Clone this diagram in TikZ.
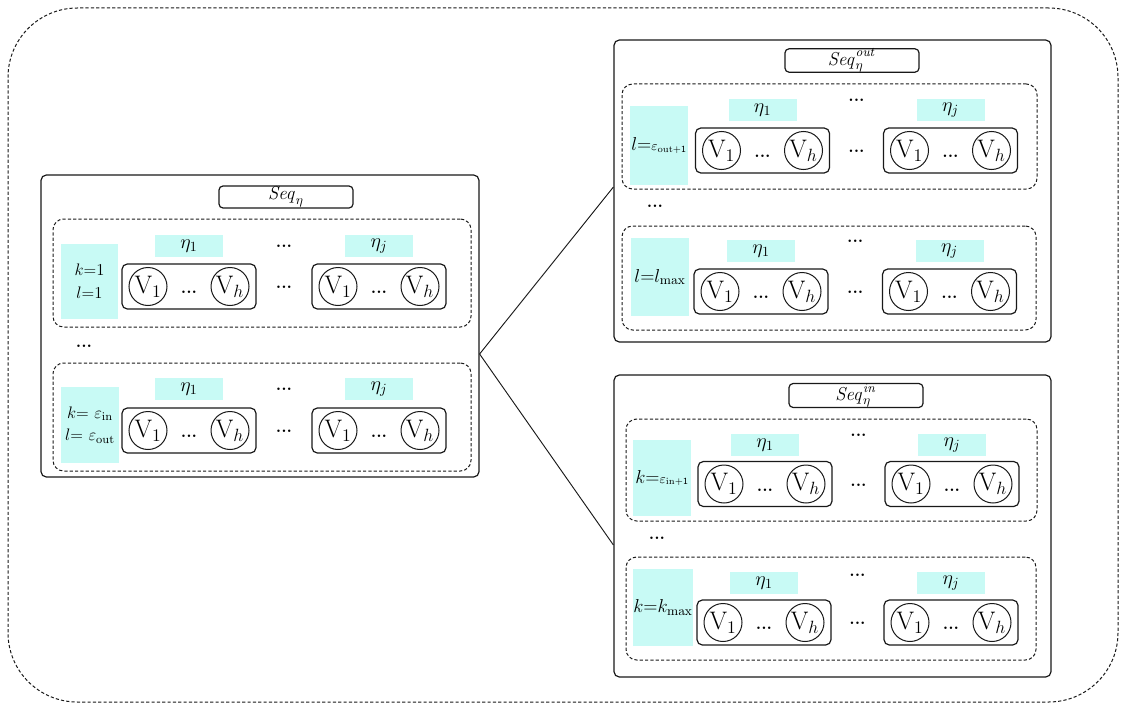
\RequirePackage{fix-cm}
\documentclass[tikz,border=0pt]{standalone}
\usetikzlibrary{calc}
\definecolor{lcyan}{RGB}{200,250,245}
\definecolor{ink}{RGB}{25,25,25}
\tikzset{
  frame/.style={draw=ink, line width=0.9pt, rounded corners=4pt, inner sep=0pt},
  grp/.style={draw=ink, line width=0.75pt, dash pattern=on 2.4pt off 1.6pt, rounded corners=8pt, inner sep=0pt},
  vbox/.style={draw=ink, line width=0.9pt, rounded corners=4pt, minimum width=100.5pt, minimum height=33.75pt, inner sep=0pt},
  vc/.style={draw=ink, line width=0.75pt, circle, minimum size=28.5pt, inner sep=0pt, font=\fontsize{19}{21}\selectfont},
  eta/.style={fill=lcyan, minimum width=51pt, minimum height=16.5pt, inner sep=0pt, font=\fontsize{15}{17}\selectfont},
  lab/.style={fill=lcyan, inner sep=0pt, align=center, font=\fontsize{12.5}{17}\selectfont},
  labr/.style={lab, font=\fontsize{14}{17}\selectfont},
  ttl/.style={draw=ink, line width=0.9pt, rounded corners=3pt, minimum width=100.5pt, minimum height=16.5pt, inner sep=0pt, font=\fontsize{14}{16}\selectfont},
  dts/.style={inner sep=0pt, font=\fontsize{13}{15}\selectfont\bfseries},
  conn/.style={draw=ink, line width=0.7pt}
}
\newcommand\vrow[6]{%
  \foreach \k/\c/\s in {a/#2/1, b/#3/j}{
    \node[vbox] (#1\k) at (\c,#4) {};
    \node[vc] (#1\k v1) at ({\c-41},#4) {$\mathrm{V}_1$};
    \node[vc] (#1\k vh) at ({\c+41},#4) {$\mathrm{V}_h$};
    \node[dts] (#1\k d) at (\c,{#4+6}) {...};
    \node[eta] (#1\k e) at (\c,#5) {$\eta_\s$};
  }
  \node[dts] (#1m) at ({(#2+#3)/2},{#4+1}) {...};
  \node[dts] (#1t) at ({(#2+#3)/2},#6) {...};
}
\begin{document}
\begin{tikzpicture}[x=0.75pt,y=-0.75pt]
\useasboundingbox (0,0) rectangle (1124,710);
% outer dashed frame
\node[draw=ink, line width=0.75pt, dash pattern=on 2.4pt off 1.6pt, rounded corners=52pt, minimum width=832.5pt, minimum height=520.5pt, inner sep=0pt] (outer) at (563,355) {};

% left box
\node[frame, minimum width=328.5pt, minimum height=226.5pt] (L) at (260,326) {};
\node[ttl] (Lt) at (286,197) {$\mathit{Seq}_\eta$};
\node[grp, minimum width=313.5pt, minimum height=81pt] (L1) at (262,273) {};
\node[grp, minimum width=313.5pt, minimum height=81pt] (L2) at (262,417) {};
\node[lab, minimum width=42.75pt, minimum height=56.25pt] (L1l) at (89.5,281.5) {$k{=}1$\\$l{=}1$};
\node[lab, minimum width=43.5pt, minimum height=57pt] (L2l) at (90,425) {$k{=}\ \varepsilon_{\mathrm{in}}$\\$l{=}\ \varepsilon_{\mathrm{out}}$};
\vrow{A}{189}{379}{286.5}{246}{246}
\vrow{B}{189}{379}{430.5}{389}{389}
\node[dts] (Ld) at (84,346) {...};

% top right box
\node[frame, minimum width=327.75pt, minimum height=226.5pt] (TR) at (832.5,191) {};
\node[ttl] (TRt) at (852,60.5) {$\mathit{Seq}_\eta^{\mathit{out}}$};
\node[grp, minimum width=311.25pt, minimum height=78.75pt] (TR1) at (829.5,136.5) {};
\node[grp, minimum width=310.5pt, minimum height=78pt] (TR2) at (829,278) {};
\node[labr, minimum width=43.5pt, minimum height=59.25pt] (TR1l) at (659,145.5) {$l{=}{\scriptstyle\varepsilon_{\mathrm{out}\mathsf{+1}}}$};
\node[labr, minimum width=43.5pt, minimum height=58.5pt] (TR2l) at (660,277) {$l{=}l_{\max}$};
\vrow{C}{762.5}{950.5}{150.5}{110}{100}
\vrow{D}{761}{949.5}{291.5}{251}{241}
\node[dts] (TRd) at (655,206) {...};

% bottom right box
\node[frame, minimum width=327.75pt, minimum height=226.5pt] (BR) at (832.5,526) {};
\node[ttl] (BRt) at (856,395.5) {$\mathit{Seq}_\eta^{\mathit{in}}$};
\node[grp, minimum width=308.25pt, minimum height=76.5pt] (BR1) at (831.5,470) {};
\node[grp, minimum width=307.5pt, minimum height=77.25pt] (BR2) at (831,608.5) {};
\node[labr, minimum width=43.5pt, minimum height=57pt] (BR1l) at (662,478) {$k{=}{\scriptstyle\varepsilon_{\mathrm{in}\mathsf{+1}}}$};
\node[labr, minimum width=43.5pt, minimum height=57.75pt] (BR2l) at (663,607.5) {$k{=}k_{\max}$};
\vrow{E}{765}{952}{484}{445}{435}
\vrow{F}{764}{951}{622.5}{583}{575}
\node[dts] (BRd) at (657,538) {...};

% connectors
\coordinate (Lx) at ([yshift=-21pt]L.east);
\draw[conn] (Lx) -- ([yshift=3pt]TR.west);
\draw[conn] (Lx) -- ([yshift=-14.25pt]BR.west);
\end{tikzpicture}
\end{document}
